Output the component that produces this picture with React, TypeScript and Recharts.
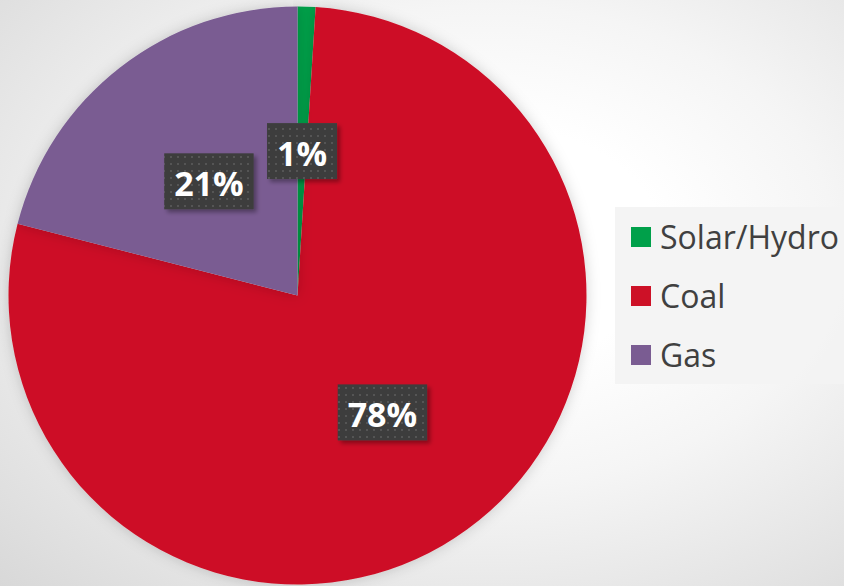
import React from 'react';
import { Cell, Legend, Pie, PieChart } from 'recharts';

const sources = ['Solar/Hydro', 'Coal', 'Gas'];
const shares = [1, 78, 21];
const colors = ['#00a04a', '#cd1127', '#7a5c92'];

const data = sources.map((name, i) => ({ name, value: shares[i] }));

const RAD = Math.PI / 180;

// rough Open Sans Bold glyph widths (em)
const glyphWidth = (s: string) =>
  s.split('').reduce((w, ch) => w + (ch === '%' ? 0.87 : 0.572), 0);

const renderLabel = (props: any) => {
  const { cx, cy, midAngle, outerRadius, percent } = props;
  const r = outerRadius * 0.5;
  const x = cx + r * Math.cos(-midAngle * RAD);
  const y = cy + r * Math.sin(-midAngle * RAD);
  const text = `${Math.round(percent * 100)}%`;
  const fs = 34;
  const w = glyphWidth(text) * fs + 21;
  const h = 56;
  return (
    <g>
      <rect x={x - w / 2} y={y - h / 2} width={w} height={h} fill="url(#dotPattern)" filter="url(#boxShadow)" />
      <text
        x={x}
        y={y + 14.5}
        textAnchor="middle"
        fill="#ffffff"
        fontFamily="'Open Sans', sans-serif"
        fontWeight={700}
        fontSize={fs}
      >
        {text}
      </text>
    </g>
  );
};

// legend keeps the data order (Recharts would sort it by name)
const renderLegend = () => (
  <div
    style={{
      background: 'rgba(243,243,243,0.92)',
      width: 230,
      height: 177,
      boxSizing: 'border-box',
      paddingTop: 0,
      paddingLeft: 16,
    }}
  >
    {sources.map((name, i) => (
      <div key={name} style={{ display: 'flex', alignItems: 'center', height: 59 }}>
        <span style={{ display: 'inline-block', width: 20, height: 20, background: colors[i], marginRight: 9 }} />
        <span
          style={{
            fontFamily: "'Open Sans', sans-serif",
            fontSize: 32,
            color: '#404040',
            lineHeight: '40px',
            whiteSpace: 'nowrap',
          }}
        >
          {name}
        </span>
      </div>
    ))}
  </div>
);

export default function App() {
  return (
    <div
      style={{
        position: 'absolute',
        left: 0,
        top: 0,
        width: 844,
        height: 586,
        overflow: 'hidden',
        background: 'radial-gradient(ellipse at 58% 42%, #ffffff 25%, #f5f5f5 50%, #d8d8d8 100%)',
      }}
    >
      <style>{`.recharts-pie-sector { filter: url(#pieShadow); } .recharts-wrapper, .recharts-surface { overflow: visible; }`}</style>
      <PieChart width={844} height={586} margin={{ top: 0, right: 0, bottom: 0, left: 0 }}>
        <defs>
          <filter id="pieShadow" x="-20%" y="-20%" width="140%" height="140%">
            <feDropShadow dx="0" dy="0" stdDeviation="7" floodColor="#000" floodOpacity="0.18" />
          </filter>
          <filter id="boxShadow" x="-20%" y="-20%" width="150%" height="150%">
            <feDropShadow dx="3" dy="3" stdDeviation="2" floodColor="#000" floodOpacity="0.35" />
          </filter>
          <pattern id="dotPattern" width="7" height="7" patternUnits="userSpaceOnUse">
            <rect width="7" height="7" fill="#3e3e3e" />
            <rect x="2" y="2" width="2" height="2" fill="#555555" />
          </pattern>
        </defs>
        <Pie
          data={data}
          dataKey="value"
          nameKey="name"
          cx={297.5}
          cy={295.5}
          outerRadius={289}
          startAngle={90}
          endAngle={-270}
          stroke="none"
          label={renderLabel}
          labelLine={false}
          isAnimationActive={false}
        >
          {data.map((d, i) => (
            <Cell key={d.name} fill={colors[i]} />
          ))}
        </Pie>
        <Legend
          layout="vertical"
          align="right"
          verticalAlign="top"
          content={renderLegend}
          wrapperStyle={{ position: 'absolute', left: 615, top: 207, width: 230 }}
        />
      </PieChart>
    </div>
  );
}
